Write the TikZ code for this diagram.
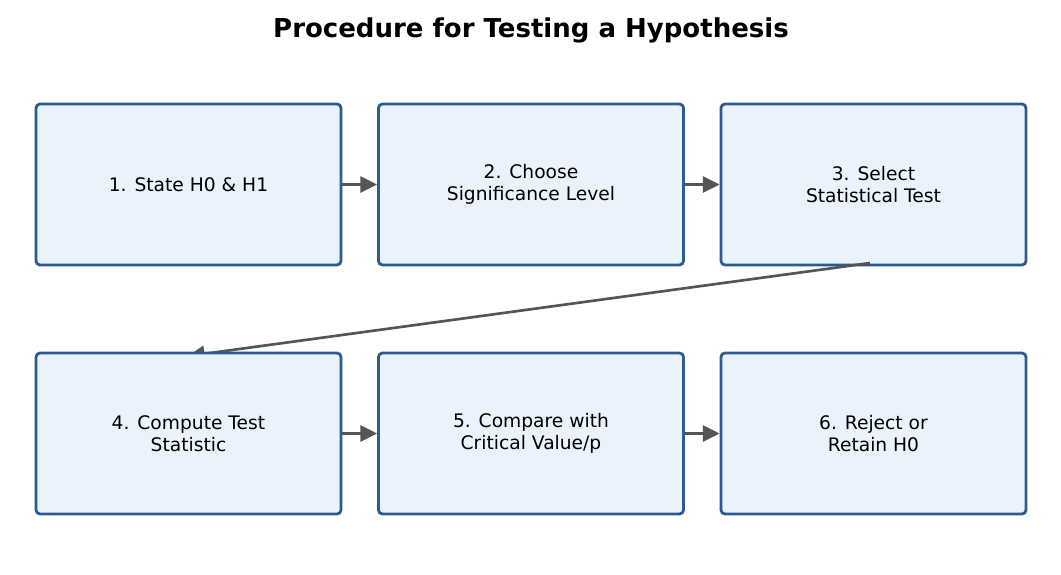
\documentclass[tikz,border=0pt]{standalone}
\usepackage{fontspec}
\setmainfont{DejaVu Sans}
\usetikzlibrary{arrows.meta}
\definecolor{boxfill}{HTML}{EAF2FB}
\definecolor{boxdraw}{HTML}{2E5B8C}
\definecolor{arr}{HTML}{555555}
\begin{document}
\begin{tikzpicture}[x=0.75pt,y=-0.75pt,
  stepbox/.style={draw=boxdraw,fill=boxfill,line width=2.1pt,rounded corners=3pt,
    minimum width=305pt*0.75,minimum height=161pt*0.75,align=center,
    font=\fontsize{14pt}{16.5pt}\selectfont,inner sep=0pt},
  flow/.style={draw=arr,line width=2pt,-{Triangle[length=12.5pt,width=12pt]}}]
\useasboundingbox (0,0) rectangle (1061,575);
\node[font=\bfseries\fontsize{19.5pt}{23pt}\selectfont] (title) at (531,30) {Procedure for Testing a Hypothesis};
\node[stepbox] (b1) at (188.5,184.5) {1. State H0 \& H1};
\node[stepbox] (b2) at (531,184.5) {2. Choose\\Significance Level};
\node[stepbox] (b3) at (873.5,184.5) {3. Select\\Statistical Test};
\coordinate (c3) at (870,263);
\coordinate (c4) at (188,356);
\draw[flow] (c3) -- (c4);
\node[stepbox] (b4) at (188.5,433.5) {4. Compute Test\\Statistic};
\node[stepbox] (b5) at (531,433.5) {5. Compare with\\Critical Value/p};
\node[stepbox] (b6) at (873.5,433.5) {6. Reject or\\Retain H0};
\draw[flow] (b1.east) -- (b2.west);
\draw[flow] (b2.east) -- (b3.west);
\draw[flow] (b4.east) -- (b5.west);
\draw[flow] (b5.east) -- (b6.west);
\end{tikzpicture}
\end{document}
